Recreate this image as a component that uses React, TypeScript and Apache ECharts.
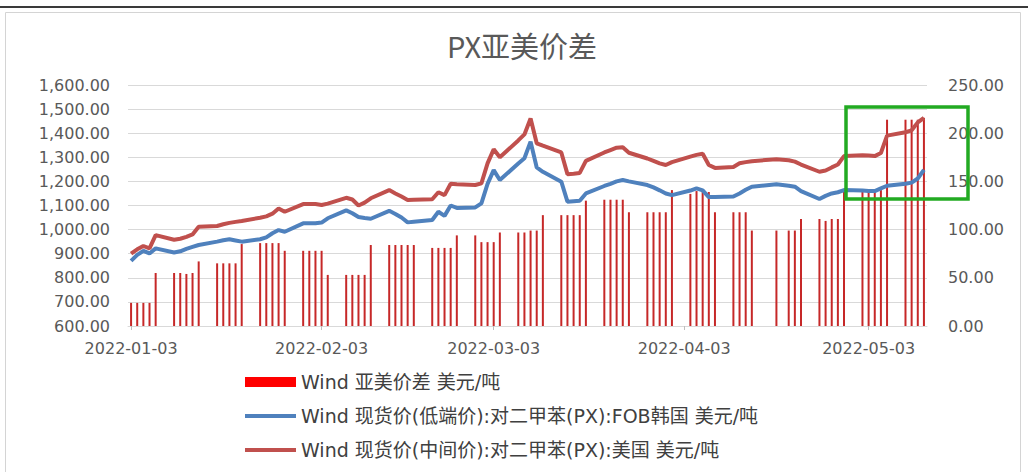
import React, { useEffect, useRef } from 'react';
import * as echarts from 'echarts';

// Trading dates shown in the chart
const tradeDates = [
  '2022-01-03','2022-01-04','2022-01-05','2022-01-06','2022-01-07',
  '2022-01-10','2022-01-11','2022-01-12','2022-01-13','2022-01-14',
  '2022-01-17','2022-01-18','2022-01-19','2022-01-20','2022-01-21',
  '2022-01-24','2022-01-25','2022-01-26','2022-01-27','2022-01-28',
  '2022-01-31','2022-02-01','2022-02-02','2022-02-03','2022-02-04',
  '2022-02-07','2022-02-08','2022-02-09','2022-02-10','2022-02-11',
  '2022-02-14','2022-02-15','2022-02-16','2022-02-17','2022-02-18',
  '2022-02-21','2022-02-22','2022-02-23','2022-02-24','2022-02-25',
  '2022-02-28','2022-03-01','2022-03-02','2022-03-03','2022-03-04',
  '2022-03-07','2022-03-08','2022-03-09','2022-03-10','2022-03-11',
  '2022-03-14','2022-03-15','2022-03-16','2022-03-17','2022-03-18',
  '2022-03-21','2022-03-22','2022-03-23','2022-03-24','2022-03-25',
  '2022-03-28','2022-03-29','2022-03-30','2022-03-31','2022-04-01',
  '2022-04-04','2022-04-05','2022-04-06','2022-04-07','2022-04-08',
  '2022-04-11','2022-04-12','2022-04-13','2022-04-14',
  '2022-04-18','2022-04-20','2022-04-21','2022-04-22',
  '2022-04-25','2022-04-26','2022-04-27','2022-04-28','2022-04-29',
  '2022-05-02','2022-05-03','2022-05-04','2022-05-05','2022-05-06',
  '2022-05-09','2022-05-10','2022-05-11','2022-05-12',
];

// Wind 亚美价差 (right axis)
const spread = [
  24, 24, 24, 24, 55,
  55, 55, 54, 55, 67,
  65, 65, 65, 65, 85,
  86, 86, 86, 86, 78,
  78, 78, 78, 78, 53,
  53, 53, 53, 53, 84,
  84, 84, 84, 84, 84,
  81, 81, 81, 81, 94,
  94, 87, 87, 87, 97,
  97, 97, 99, 99, 115,
  115, 115, 115, 115, 130,
  131, 131, 131, 131, 118,
  118, 118, 118, 118, 141,
  137, 140, 141, 139, 118,
  118, 118, 118, 99,
  99, 99, 99, 111,
  111, 109, 111, 111, 141,
  141, 141, 141, 141, 214,
  214, 214, 214, 216,
];

// 现货价(低端价):对二甲苯(PX):FOB韩国 (left axis)
const fobKorea = [
  870, 895, 912, 901, 922,
  905, 910, 920, 928, 936,
  950, 956, 960, 955, 950,
  960, 968, 985, 998, 991,
  1026, 1026, 1026, 1029, 1047,
  1080, 1068, 1052, 1048, 1045,
  1078, 1065, 1050, 1030, 1033,
  1040, 1074, 1057, 1100, 1090,
  1092, 1109, 1190, 1247, 1206,
  1274, 1296, 1365, 1258, 1240,
  1199, 1116, 1118, 1120, 1150,
  1181, 1190, 1200, 1206, 1200,
  1185, 1175, 1163, 1150, 1143,
  1162, 1171, 1163, 1135, 1135,
  1137, 1150, 1165, 1178,
  1188, 1182, 1178, 1160,
  1127, 1140, 1150, 1155, 1164,
  1162, 1160, 1160, 1171, 1182,
  1190, 1195, 1212, 1248,
];

// 现货价(中间价):对二甲苯(PX):美国 (left axis)
const usMid = [
  900, 918, 932, 922, 977,
  958, 962, 970, 980, 1012,
  1015, 1022, 1028, 1032, 1036,
  1049, 1055, 1066, 1088, 1074,
  1106, 1106, 1106, 1102, 1108,
  1132, 1125, 1100, 1112, 1130,
  1164, 1150, 1137, 1123, 1124,
  1126, 1155, 1143, 1190, 1188,
  1185, 1192, 1275, 1333, 1300,
  1370, 1395, 1461, 1358, 1348,
  1320, 1230, 1232, 1235, 1285,
  1320, 1330, 1340, 1342, 1319,
  1295, 1285, 1275, 1268, 1280,
  1303, 1310, 1315, 1268, 1256,
  1260, 1275, 1280, 1284,
  1292, 1288, 1282, 1270,
  1240, 1245, 1258, 1270, 1305,
  1308, 1307, 1305, 1318, 1390,
  1404, 1412, 1445, 1464,
];

const leftAxis = { min: 600, max: 1600, interval: 100 };
const rightAxis = { min: 0, max: 250, interval: 50 };

const seriesNames = [
  'Wind 亚美价差 美元/吨',
  'Wind 现货价(低端价):对二甲苯(PX):FOB韩国 美元/吨',
  'Wind 现货价(中间价):对二甲苯(PX):美国 美元/吨',
];

const titleText = 'PX亚美价差';

function pad(n: number) {
  return n < 10 ? '0' + n : '' + n;
}

function calendarDays(start: string, end: string): string[] {
  const out: string[] = [];
  const s = new Date(start + 'T00:00:00Z');
  const e = new Date(end + 'T00:00:00Z');
  for (let d = new Date(s); d <= e; d.setUTCDate(d.getUTCDate() + 1)) {
    out.push(`${d.getUTCFullYear()}-${pad(d.getUTCMonth() + 1)}-${pad(d.getUTCDate())}`);
  }
  return out;
}

const fmt = (v: number) =>
  v.toLocaleString('en-US', { minimumFractionDigits: 2, maximumFractionDigits: 2 });

const lineIcon = 'path://M0,0L51,0L51,4L0,4Z';
const barIcon = 'path://M0,0L51,0L51,10L0,10Z';

export default function App() {
  const ref = useRef<HTMLDivElement>(null);

  useEffect(() => {
    if (!ref.current) return;
    const chart = echarts.init(ref.current, null, { renderer: 'svg' });

    const days = calendarDays(tradeDates[0], tradeDates[tradeDates.length - 1]);
    const idx: Record<string, number> = {};
    tradeDates.forEach((d, i) => (idx[d] = i));
    const pick = (arr: number[]) => days.map((d) => (d in idx ? arr[idx[d]] : null));

    const showLabel = (_i: number, v: string) => v.endsWith('-03');
    const axisFont = "'DejaVu Sans', 'Noto Sans CJK SC', sans-serif";

    chart.setOption({
      animation: false,
      backgroundColor: '#ffffff',
      grid: { left: 128, right: 101, top: 85, bottom: 146 },
      xAxis: {
        type: 'category',
        data: days,
        boundaryGap: true,
        axisLine: { show: true, lineStyle: { color: '#d9d9d9', width: 1 } },
        axisTick: { show: true, interval: showLabel, alignWithLabel: true, length: 4, lineStyle: { color: '#bfbfbf' } },
        axisLabel: {
          interval: showLabel,
          margin: 14,
          color: '#595959',
          fontSize: 16,
          fontFamily: axisFont,
        },
        splitLine: { show: false },
      },
      yAxis: [
        {
          type: 'value',
          min: leftAxis.min,
          max: leftAxis.max,
          interval: leftAxis.interval,
          axisLine: { show: false },
          axisTick: { show: false },
          axisLabel: { formatter: fmt, margin: 18, color: '#595959', fontSize: 16, fontFamily: axisFont },
          splitLine: { show: true, lineStyle: { color: '#d9d9d9', width: 1 } },
        },
        {
          type: 'value',
          min: rightAxis.min,
          max: rightAxis.max,
          interval: rightAxis.interval,
          position: 'right',
          axisLine: { show: false },
          axisTick: { show: false },
          axisLabel: { formatter: fmt, margin: 21, color: '#595959', fontSize: 16, fontFamily: axisFont },
          splitLine: { show: false },
        },
      ],
      legend: {
        orient: 'vertical',
        left: 240,
        top: 367,
        itemWidth: 51,
        itemHeight: 10,
        itemGap: 14,
        symbolKeepAspect: true,
        textStyle: {
          color: '#404040',
          fontSize: 19,
          lineHeight: 20,
          fontFamily: "'DejaVu Sans', 'Noto Sans CJK SC', sans-serif",
        },
        data: [
          { name: seriesNames[0], icon: barIcon, itemStyle: { color: '#ff0000', borderWidth: 0 } },
          { name: seriesNames[1], icon: lineIcon, itemStyle: { color: '#4f81bd', borderWidth: 0 } },
          { name: seriesNames[2], icon: lineIcon, itemStyle: { color: '#c0504d', borderWidth: 0 } },
        ],
      },
      series: [
        {
          name: seriesNames[0],
          type: 'bar',
          yAxisIndex: 1,
          data: pick(spread),
          barWidth: 2,
          itemStyle: { color: '#c62828' },
        },
        {
          name: seriesNames[1],
          type: 'line',
          yAxisIndex: 0,
          data: pick(fobKorea),
          connectNulls: true,
          symbol: 'none',
          lineStyle: { color: '#4f81bd', width: 4 },
          itemStyle: { color: '#4f81bd' },
        },
        {
          name: seriesNames[2],
          type: 'line',
          yAxisIndex: 0,
          data: pick(usMid),
          connectNulls: true,
          symbol: 'none',
          lineStyle: { color: '#c0504d', width: 4 },
          itemStyle: { color: '#c0504d' },
        },
      ],
      graphic: [
        {
          type: 'line',
          silent: true,
          shape: { x1: 0, y1: 7, x2: 1028, y2: 7 },
          style: { stroke: '#3a3a3a', lineWidth: 2 },
        },
        {
          type: 'rect',
          silent: true,
          shape: { x: 5.5, y: 12.5, width: 1015, height: 470 },
          style: { fill: 'none', stroke: '#d4d4d4', lineWidth: 1 },
        },
        {
          type: 'text',
          silent: true,
          x: 522,
          y: 45,
          style: {
            text: titleText,
            fill: '#595959',
            fontSize: 29,
            fontFamily: "'Noto Sans CJK SC', sans-serif",
            textAlign: 'center',
            textVerticalAlign: 'middle',
          },
        },
        {
          type: 'rect',
          silent: true,
          z: 100,
          shape: { x: 846, y: 107, width: 122, height: 92 },
          style: { fill: 'none', stroke: '#22aa22', lineWidth: 3.5 },
        },
      ],
    });

    return () => chart.dispose();
  }, []);

  return (
    <div
      ref={ref}
      style={{ position: 'fixed', left: 0, top: 0, width: 1028, height: 472 }}
    />
  );
}
